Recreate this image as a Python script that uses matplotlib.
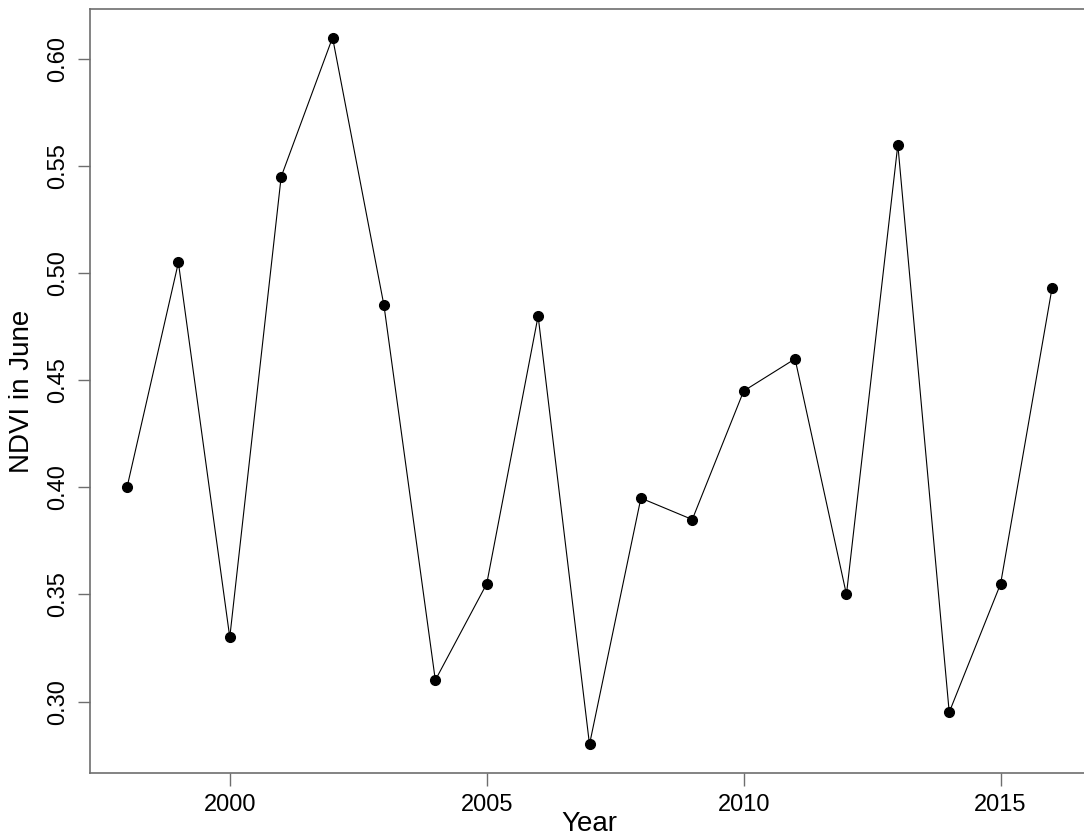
import numpy as np
import matplotlib
matplotlib.use("Agg")
import matplotlib.pyplot as plt

# NDVI in June, per year
years = [1998, 1999, 2000, 2001, 2002, 2003, 2004, 2005, 2006, 2007,
         2008, 2009, 2010, 2011, 2012, 2013, 2014, 2015, 2016]
ndvi = [0.400, 0.505, 0.330, 0.545, 0.610, 0.485, 0.310, 0.355, 0.480, 0.280,
        0.395, 0.385, 0.445, 0.460, 0.350, 0.560, 0.295, 0.355, 0.493]
x_ticks = [2000, 2005, 2010, 2015]
y_ticks = [0.30, 0.35, 0.40, 0.45, 0.50, 0.55, 0.60]

plt.rcParams["font.family"] = ["Liberation Sans", "DejaVu Sans"]

W, H = 1084, 836
fig = plt.figure(figsize=(W / 100, H / 100), dpi=100)
# plot region runs past the right edge (reference is cropped there)
ax = fig.add_axes([90 / W, (H - 772.7) / H, (1089 - 90) / W, (772.7 - 9.3) / H])

ax.plot(years, ndvi, color="black", linewidth=0.8, marker="o",
        markersize=7, markerfacecolor="black", markeredgecolor="black")

# R-style 4% padding
def padded(vals):
    lo, hi = min(vals), max(vals)
    d = (hi - lo) * 0.04
    return lo - d, hi + d

ax.set_xlim(*padded(years))
ax.set_ylim(*padded(ndvi))

ax.set_xticks(x_ticks)
ax.set_yticks(y_ticks)
ax.set_yticklabels([f"{v:.2f}" for v in y_ticks], rotation=90, va="center")

for s in ax.spines.values():
    s.set_color("#6e6e6e")
    s.set_linewidth(1.2)

ax.tick_params(axis="both", direction="out", length=9, width=1,
               color="#6e6e6e", labelsize=17, pad=6)

ax.set_xlabel("Year", fontsize=20, labelpad=-3)
ax.set_ylabel("NDVI in June", fontsize=20, labelpad=9)

fig.savefig("out.png", dpi=100)
